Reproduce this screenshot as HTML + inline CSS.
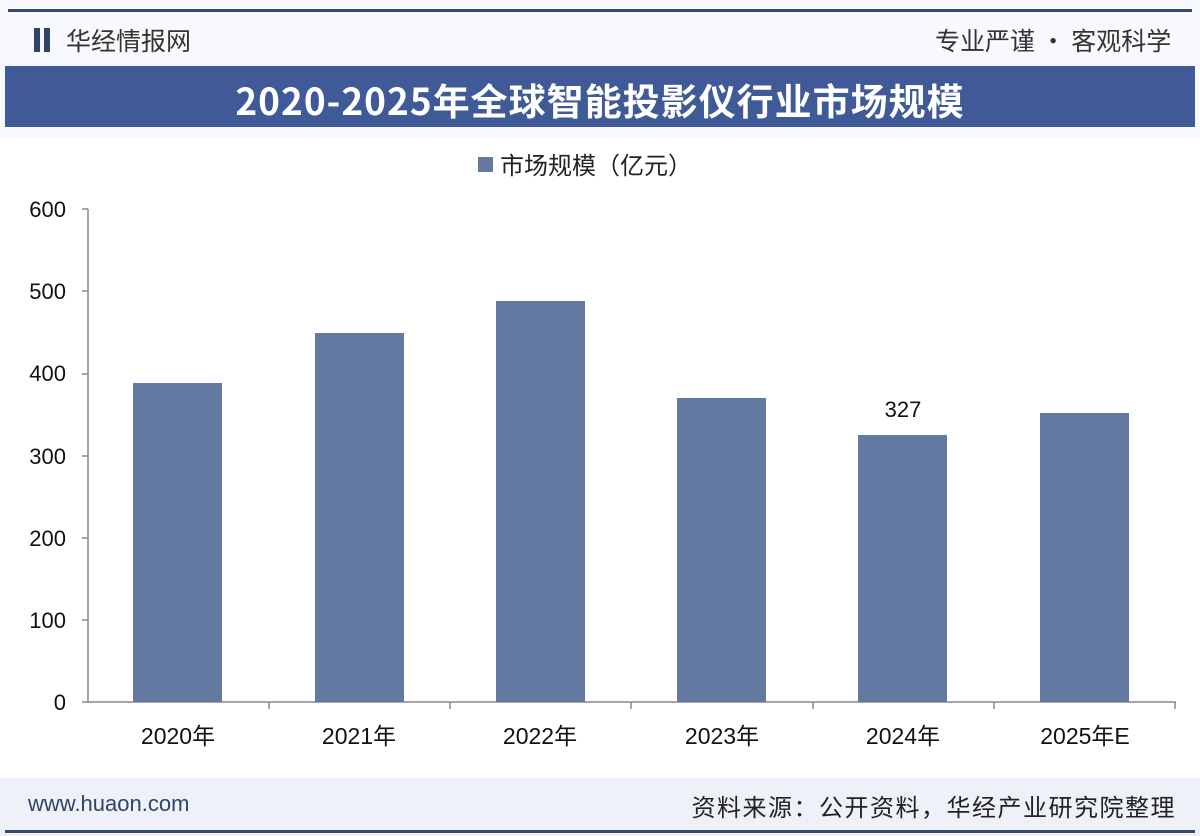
<!DOCTYPE html>
<html><head><meta charset="utf-8"><style>
body{margin:0;width:1200px;height:836px;background:#fff;position:relative;overflow:hidden;font-family:"Liberation Sans","Noto Sans CJK SC",sans-serif}
.a{position:absolute}
</style></head><body>
<div class="a" style="left:0;top:0;width:1200px;height:836px;background:#f8f9fc"></div>
<div class="a" style="left:8px;top:9px;width:1184px;height:3px;background:#34496e"></div>
<div class="a" style="left:34px;top:28px;width:6px;height:24px;background:#2f4466"></div>
<div class="a" style="left:44px;top:28px;width:6px;height:24px;background:#2f4466"></div>
<div class="a" style="left:66px;top:22px;font-size:25px;color:#333;font-family:'Noto Sans CJK SC',sans-serif">华经情报网</div>
<div class="a" style="left:935px;top:22px;font-size:25px;color:#333;font-family:'Noto Sans CJK SC',sans-serif">专业严谨 • 客观科学</div>
<div class="a" style="left:5px;top:66px;width:1190px;height:61px;background:#3f5a96"></div>
<div class="a" style="left:0;top:72px;width:1200px;text-align:center;font-size:37px;letter-spacing:1px;font-weight:bold;color:#fff;font-family:'Noto Sans CJK SC',sans-serif">2020-2025年全球智能投影仪行业市场规模</div>
<div class="a" style="left:0;top:138px;width:1200px;height:640px;background:#fff"></div>
<div class="a" style="left:478px;top:157px;width:15px;height:15px;background:#6379a2"></div>
<div class="a" style="left:500px;top:146px;font-size:24px;color:#222;font-family:'Noto Sans CJK SC',sans-serif">市场规模（亿元）</div>
<svg class="a" style="left:0;top:0" width="1200" height="836">
<g font-family="Liberation Sans, sans-serif" font-size="22" fill="#111" text-anchor="end">
<text x="66" y="217">600</text><text x="66" y="299">500</text><text x="66" y="381">400</text><text x="66" y="464">300</text><text x="66" y="546">200</text><text x="66" y="628">100</text><text x="66" y="710">0</text>
</g>
<g stroke="#888" stroke-width="1.5">
<line x1="88" y1="209" x2="88" y2="702"/><line x1="82" y1="702" x2="1176" y2="702"/>
<line x1="82" y1="209" x2="88" y2="209"/><line x1="82" y1="291" x2="88" y2="291"/><line x1="82" y1="374" x2="88" y2="374"/><line x1="82" y1="456" x2="88" y2="456"/><line x1="82" y1="538" x2="88" y2="538"/><line x1="82" y1="620" x2="88" y2="620"/>
<line x1="269" y1="702" x2="269" y2="709"/><line x1="450" y1="702" x2="450" y2="709"/><line x1="631" y1="702" x2="631" y2="709"/><line x1="813" y1="702" x2="813" y2="709"/><line x1="994" y1="702" x2="994" y2="709"/><line x1="1175" y1="702" x2="1175" y2="709"/>
</g>
<g fill="#6379a2">
<rect x="133" y="383" width="89" height="319"/>
<rect x="315" y="333" width="89" height="369"/>
<rect x="496" y="301" width="89" height="401"/>
<rect x="677" y="398" width="89" height="304"/>
<rect x="858" y="435" width="89" height="267"/>
<rect x="1040" y="413" width="89" height="289"/>
</g>
<text x="903" y="417" font-size="22" text-anchor="middle" fill="#111" font-family="Liberation Sans, sans-serif">327</text>
<g font-size="23" text-anchor="middle" fill="#111" font-family="Liberation Sans, Noto Sans CJK SC, sans-serif">
<text x="178" y="744">2020年</text><text x="359" y="744">2021年</text><text x="540" y="744">2022年</text><text x="722" y="744">2023年</text><text x="903" y="744">2024年</text><text x="1085" y="744">2025年E</text>
</g>
</svg>
<div class="a" style="left:0;top:778px;width:1200px;height:58px;background:#eef1f7"></div>
<div class="a" style="left:28px;top:791px;font-size:22px;color:#2f4466">www.huaon.com</div>
<div class="a" style="right:24px;top:788px;font-size:24px;letter-spacing:1.5px;color:#222;font-family:'Noto Sans CJK SC',sans-serif">资料来源：公开资料，华经产业研究院整理</div>
<div class="a" style="left:5px;top:830px;width:1190px;height:3px;background:#34496e"></div>
</body></html>
